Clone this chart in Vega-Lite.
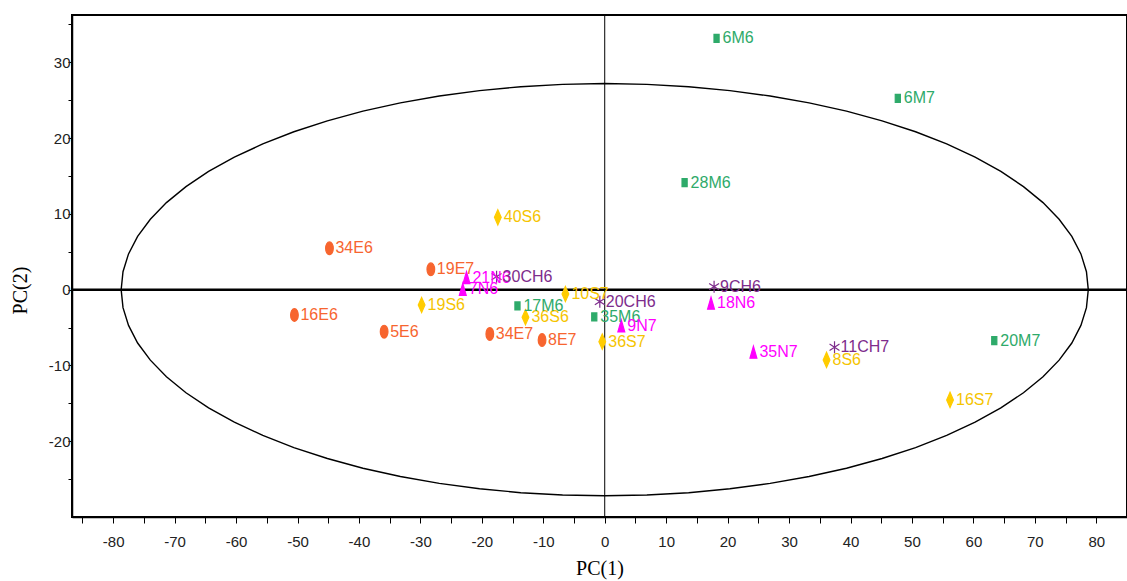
{
  "$schema": "https://vega.github.io/schema/vega-lite/v6.json",
  "autosize": "none",
  "width": 1055,
  "height": 502,
  "padding": {"left": 72, "top": 15, "right": 0, "bottom": 64},
  "background": "white",
  "config": {
    "view": {"stroke": "black", "strokeWidth": 2},
    "axis": {"grid": false, "domainColor": "black", "domainWidth": 1.5, "tickColor": "black", "tickWidth": 1, "labelFont": "Liberation Sans", "labelFontSize": 15, "labelColor": "#222222", "labelOverlap": false, "titleFont": "Liberation Serif", "titleFontSize": 20, "titleFontWeight": "normal", "titleColor": "black"}
  },
  "datasets": {
    "points": [
      {"label": "34E6", "group": "E", "x": -44.8, "y": 5.46},
      {"label": "19E7", "group": "E", "x": -28.3, "y": 2.69},
      {"label": "16E6", "group": "E", "x": -50.5, "y": -3.34},
      {"label": "5E6", "group": "E", "x": -35.9, "y": -5.54},
      {"label": "34E7", "group": "E", "x": -18.7, "y": -5.84},
      {"label": "8E7", "group": "E", "x": -10.2, "y": -6.64},
      {"label": "40S6", "group": "S", "x": -17.4, "y": 9.55},
      {"label": "19S6", "group": "S", "x": -29.8, "y": -2.02},
      {"label": "36S6", "group": "S", "x": -12.9, "y": -3.64},
      {"label": "10S7", "group": "S", "x": -6.4, "y": -0.57},
      {"label": "36S7", "group": "S", "x": -0.4, "y": -6.86},
      {"label": "8S6", "group": "S", "x": 36.1, "y": -9.27},
      {"label": "16S7", "group": "S", "x": 56.2, "y": -14.55},
      {"label": "6M6", "group": "M", "x": 18.2, "y": 33.17},
      {"label": "6M7", "group": "M", "x": 47.7, "y": 25.25},
      {"label": "28M6", "group": "M", "x": 13.0, "y": 14.12},
      {"label": "17M6", "group": "M", "x": -14.2, "y": -2.15},
      {"label": "35M6", "group": "M", "x": -1.7, "y": -3.6},
      {"label": "20M7", "group": "M", "x": 63.4, "y": -6.73},
      {"label": "21N6", "group": "N", "x": -22.5, "y": 1.58},
      {"label": "7N6", "group": "N", "x": -23.1, "y": 0.05},
      {"label": "9N7", "group": "N", "x": 2.7, "y": -4.79},
      {"label": "18N6", "group": "N", "x": 17.3, "y": -1.79},
      {"label": "35N7", "group": "N", "x": 24.2, "y": -8.26},
      {"label": "30CH6", "group": "CH", "x": -17.6, "y": 1.72},
      {"label": "20CH6", "group": "CH", "x": -0.8, "y": -1.58},
      {"label": "9CH6", "group": "CH", "x": 17.8, "y": 0.4},
      {"label": "11CH7", "group": "CH", "x": 37.4, "y": -7.6}
    ],
    "ellipse": [
      {"i": 0, "x": 78.70, "y": 0}, {"i": 1, "x": 78.40, "y": 2.37}, {"i": 2, "x": 77.50, "y": 4.72}, {"i": 3, "x": 76.02, "y": 7.04},
      {"i": 4, "x": 73.95, "y": 9.30}, {"i": 5, "x": 71.33, "y": 11.49}, {"i": 6, "x": 68.15, "y": 13.60}, {"i": 7, "x": 64.47, "y": 15.60},
      {"i": 8, "x": 60.28, "y": 17.48}, {"i": 9, "x": 55.65, "y": 19.23}, {"i": 10, "x": 50.59, "y": 20.84}, {"i": 11, "x": 45.14, "y": 22.28},
      {"i": 12, "x": 39.35, "y": 23.56}, {"i": 13, "x": 33.26, "y": 24.65}, {"i": 14, "x": 26.92, "y": 25.56}, {"i": 15, "x": 20.37, "y": 26.27},
      {"i": 16, "x": 13.66, "y": 26.79}, {"i": 17, "x": 6.86, "y": 27.10}, {"i": 18, "x": 0, "y": 27.2},
      {"i": 19, "x": -6.86, "y": 27.10}, {"i": 20, "x": -13.66, "y": 26.79}, {"i": 21, "x": -20.37, "y": 26.27}, {"i": 22, "x": -26.92, "y": 25.56},
      {"i": 23, "x": -33.26, "y": 24.65}, {"i": 24, "x": -39.35, "y": 23.56}, {"i": 25, "x": -45.14, "y": 22.28}, {"i": 26, "x": -50.59, "y": 20.84},
      {"i": 27, "x": -55.65, "y": 19.23}, {"i": 28, "x": -60.28, "y": 17.48}, {"i": 29, "x": -64.47, "y": 15.60}, {"i": 30, "x": -68.15, "y": 13.60},
      {"i": 31, "x": -71.33, "y": 11.49}, {"i": 32, "x": -73.95, "y": 9.30}, {"i": 33, "x": -76.02, "y": 7.04}, {"i": 34, "x": -77.50, "y": 4.72},
      {"i": 35, "x": -78.40, "y": 2.37}, {"i": 36, "x": -78.70, "y": 0},
      {"i": 37, "x": -78.40, "y": -2.37}, {"i": 38, "x": -77.50, "y": -4.72}, {"i": 39, "x": -76.02, "y": -7.04}, {"i": 40, "x": -73.95, "y": -9.30},
      {"i": 41, "x": -71.33, "y": -11.49}, {"i": 42, "x": -68.15, "y": -13.60}, {"i": 43, "x": -64.47, "y": -15.60}, {"i": 44, "x": -60.28, "y": -17.48},
      {"i": 45, "x": -55.65, "y": -19.23}, {"i": 46, "x": -50.59, "y": -20.84}, {"i": 47, "x": -45.14, "y": -22.28}, {"i": 48, "x": -39.35, "y": -23.56},
      {"i": 49, "x": -33.26, "y": -24.65}, {"i": 50, "x": -26.92, "y": -25.56}, {"i": 51, "x": -20.37, "y": -26.27}, {"i": 52, "x": -13.66, "y": -26.79},
      {"i": 53, "x": -6.86, "y": -27.10}, {"i": 54, "x": 0, "y": -27.2},
      {"i": 55, "x": 6.86, "y": -27.10}, {"i": 56, "x": 13.66, "y": -26.79}, {"i": 57, "x": 20.37, "y": -26.27}, {"i": 58, "x": 26.92, "y": -25.56},
      {"i": 59, "x": 33.26, "y": -24.65}, {"i": 60, "x": 39.35, "y": -23.56}, {"i": 61, "x": 45.14, "y": -22.28}, {"i": 62, "x": 50.59, "y": -20.84},
      {"i": 63, "x": 55.65, "y": -19.23}, {"i": 64, "x": 60.28, "y": -17.48}, {"i": 65, "x": 64.47, "y": -15.60}, {"i": 66, "x": 68.15, "y": -13.60},
      {"i": 67, "x": 71.33, "y": -11.49}, {"i": 68, "x": 73.95, "y": -9.30}, {"i": 69, "x": 76.02, "y": -7.04}, {"i": 70, "x": 77.50, "y": -4.72},
      {"i": 71, "x": 78.40, "y": -2.37}, {"i": 72, "x": 78.70, "y": 0}
    ]
  },
  "layer": [
    {
      "data": {"name": "ellipse"},
      "mark": {"type": "line", "color": "black", "strokeWidth": 1.4},
      "encoding": {
        "x": {"field": "x", "type": "quantitative", "scale": {"domain": [-86.7, 85], "nice": false, "zero": false},
          "axis": {"title": "PC(1)", "values": [-85, -80, -75, -70, -65, -60, -55, -50, -45, -40, -35, -30, -25, -20, -15, -10, -5, 0, 5, 10, 15, 20, 25, 30, 35, 40, 45, 50, 55, 60, 65, 70, 75, 80, 85],
            "tickCount": 100, "labelExpr": "datum.value % 10 === 0 ? '' + datum.value : ''", "labelOverlap": false, "tickSize": 6, "labelPadding": 11, "titlePadding": 9}},
        "y": {"field": "y", "type": "quantitative", "scale": {"domain": [-30, 36.25], "nice": false, "zero": false},
          "axis": {"title": "PC(2)", "values": [-25, -20, -15, -10, -5, 0, 5, 10, 15, 20, 25, 30, 35],
            "tickCount": 100, "labelExpr": "datum.value % 10 === 0 ? '' + datum.value : ''", "labelOverlap": false, "tickSize": 4, "labelPadding": -2, "titleX": -52, "titleY": 275, "titleBaseline": "middle", "titleAlign": "center", "titleAngle": 270}},
        "order": {"field": "i", "type": "quantitative"}
      }
    },
    {
      "data": {"values": [{}]},
      "mark": {"type": "rule", "color": "black", "strokeWidth": 2.5},
      "encoding": {"y": {"datum": 0, "type": "quantitative", "scale": {"domain": [-30, 36.25], "nice": false, "zero": false}}}
    },
    {
      "data": {"values": [{}]},
      "mark": {"type": "rule", "color": "black", "strokeWidth": 1},
      "encoding": {"x": {"datum": 0, "type": "quantitative", "scale": {"domain": [-86.7, 85], "nice": false, "zero": false}}}
    },
    {
      "data": {"name": "points"},
      "mark": {"type": "point", "filled": true, "opacity": 1, "strokeWidth": 1.2, "size": 256},
      "encoding": {
        "x": {"field": "x", "type": "quantitative", "scale": {"domain": [-86.7, 85], "nice": false, "zero": false}},
        "y": {"field": "y", "type": "quantitative", "scale": {"domain": [-30, 36.25], "nice": false, "zero": false}},
        "shape": {"field": "group", "type": "nominal", "legend": null, "scale": {"domain": ["E", "S", "M", "N", "CH"], "range": [
          "M0,-0.8A0.48,0.8,0,1,1,0,0.8A0.48,0.8,0,1,1,0,-0.8Z",
          "M0,-0.95L0.42,0L0,0.95L-0.42,0Z",
          "M-0.32,-0.5L0.32,-0.5L0.32,0.5L-0.32,0.5Z",
          "M0,-0.75L0.43,0.75L-0.43,0.75Z",
          "M0,-0.75L0,0.75M-0.62,-0.4L0.62,0.4M-0.62,0.4L0.62,-0.4"]}},
        "fill": {"field": "group", "type": "nominal", "legend": null, "scale": {"domain": ["E", "S", "M", "N", "CH"], "range": ["#F7652F", "#FFCC00", "#2EAA6A", "#FF00FF", "#7E2C8C"]}},
        "stroke": {"field": "group", "type": "nominal", "legend": null, "scale": {"domain": ["E", "S", "M", "N", "CH"], "range": ["#F7652F", "#FFCC00", "#2EAA6A", "#FF00FF", "#7E2C8C"]}}
      }
    },
    {
      "data": {"name": "points"},
      "mark": {"type": "text", "align": "left", "baseline": "middle", "dx": 6, "font": "Liberation Sans", "fontSize": 16},
      "encoding": {
        "x": {"field": "x", "type": "quantitative", "scale": {"domain": [-86.7, 85], "nice": false, "zero": false}},
        "y": {"field": "y", "type": "quantitative", "scale": {"domain": [-30, 36.25], "nice": false, "zero": false}},
        "text": {"field": "label", "type": "nominal"},
        "color": {"field": "group", "type": "nominal", "legend": null, "scale": {"domain": ["E", "S", "M", "N", "CH"], "range": ["#F7652F", "#F5C400", "#2EAA6A", "#FF00FF", "#7E2C8C"]}}
      }
    }
  ]
}
